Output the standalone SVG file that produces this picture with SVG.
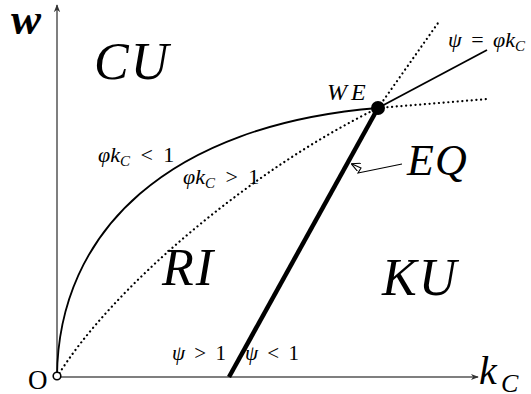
<svg xmlns="http://www.w3.org/2000/svg" width="531" height="394" viewBox="0 0 531 394">
<style>
.ax{stroke:#555;stroke-width:1.5;fill:none}
.c{stroke:#000;fill:none;stroke-width:1.8}
.d{stroke:#000;fill:none;stroke-width:2.2;stroke-dasharray:0.1,4.6;stroke-linecap:round}
.t{font-family:"Liberation Serif",serif;font-style:italic;fill:#000}
.r{font-family:"Liberation Serif",serif;fill:#000}
</style>
<defs>
<marker id="ah" viewBox="0 0 10 10" refX="9" refY="5" markerWidth="8" markerHeight="8" markerUnits="userSpaceOnUse" orient="auto"><path d="M0,1 L10,5 L0,9 L3,5 Z" fill="#333"/></marker>
<marker id="sh" viewBox="0 0 10 10" refX="9" refY="5" markerWidth="9" markerHeight="9" markerUnits="userSpaceOnUse" orient="auto"><path d="M0,0 L10,5 L0,10" fill="none" stroke="#000" stroke-width="1.2"/></marker>
</defs>
<g id="axes">
<line class="ax" x1="57" y1="377" x2="57" y2="5" marker-end="url(#ah)"/>
<line class="ax" x1="57" y1="377" x2="478" y2="377" marker-end="url(#ah)"/>
</g>
<g id="connectors">
<path class="c" d="M57,377 C58,230 170,125 378,108"/>
<path class="d" d="M57,377 C110,290 250,170 378,108"/>
<line class="d" x1="378" y1="108" x2="438" y2="23"/>
<line class="d" x1="378" y1="108" x2="488" y2="99"/>
<line class="c" x1="378" y1="108" x2="487" y2="50"/>
<line x1="229" y1="377" x2="378" y2="108" stroke="#000" stroke-width="4.5"/>
<path d="M402,164 L358,173 L361,168 L352,164" fill="none" stroke="#000" stroke-width="1.1" marker-end="url(#sh)"/>
</g>
<g id="origin"><circle cx="57" cy="376" r="3.8" fill="#fff" stroke="#000" stroke-width="1.6"/><text class="r" x="28" y="389" font-size="27">O</text></g>
<g id="we"><circle cx="378" cy="108" r="7" fill="#000"/><text class="t" x="327" y="100" font-size="24" letter-spacing="4">WE</text></g>
<g id="labels">
<text class="t" x="11" y="34" font-size="45" font-weight="bold">w</text>
<text class="t" x="479" y="384" font-size="40">k</text><text class="t" x="501" y="392" font-size="26">C</text>
<text class="t" x="94" y="79" font-size="52" letter-spacing="2">CU</text>
<text class="t" x="162" y="285" font-size="52" letter-spacing="2">RI</text>
<text class="t" x="382" y="295" font-size="52" letter-spacing="2">KU</text>
<text class="t" x="407" y="175" font-size="44" letter-spacing="1">EQ</text>
<text class="t" x="448" y="47" font-size="22" word-spacing="4">ψ <tspan font-style="normal">= </tspan>φk<tspan font-size="15" dy="4">C</tspan></text>
<text class="t" x="98" y="162" font-size="22">φk<tspan font-size="15" dy="4">C</tspan><tspan dy="-4" font-style="normal" word-spacing="5"> &lt; 1</tspan></text>
<text class="t" x="183" y="184" font-size="22">φk<tspan font-size="15" dy="4">C</tspan><tspan dy="-4" font-style="normal" word-spacing="5"> &gt; 1</tspan></text>
<text class="t" x="172" y="360" font-size="21">ψ<tspan font-style="normal" word-spacing="4"> &gt; 1</tspan></text>
<text class="t" x="245" y="360" font-size="21">ψ<tspan font-style="normal" word-spacing="4"> &lt; 1</tspan></text>
</g>
</svg>
